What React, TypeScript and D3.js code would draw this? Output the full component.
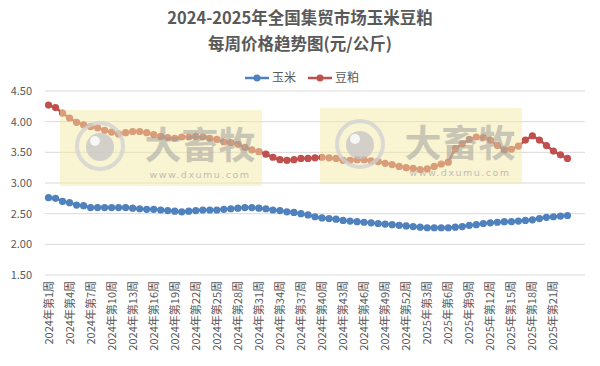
import React from 'react'
import * as d3 from 'd3'

const weeks = [
  '2024年第1周', '2024年第2周', '2024年第3周', '2024年第4周', '2024年第5周', '2024年第6周',
  '2024年第7周', '2024年第8周', '2024年第9周', '2024年第10周', '2024年第11周', '2024年第12周',
  '2024年第13周', '2024年第14周', '2024年第15周', '2024年第16周', '2024年第17周', '2024年第18周',
  '2024年第19周', '2024年第20周', '2024年第21周', '2024年第22周', '2024年第23周', '2024年第24周',
  '2024年第25周', '2024年第26周', '2024年第27周', '2024年第28周', '2024年第29周', '2024年第30周',
  '2024年第31周', '2024年第32周', '2024年第33周', '2024年第34周', '2024年第35周', '2024年第36周',
  '2024年第37周', '2024年第38周', '2024年第39周', '2024年第40周', '2024年第41周', '2024年第42周',
  '2024年第43周', '2024年第44周', '2024年第45周', '2024年第46周', '2024年第47周', '2024年第48周',
  '2024年第49周', '2024年第50周', '2024年第51周', '2024年第52周',
  '2025年第1周', '2025年第2周', '2025年第3周', '2025年第4周', '2025年第5周', '2025年第6周',
  '2025年第7周', '2025年第8周', '2025年第9周', '2025年第10周', '2025年第11周', '2025年第12周',
  '2025年第13周', '2025年第14周', '2025年第15周', '2025年第16周', '2025年第17周', '2025年第18周',
  '2025年第19周', '2025年第20周', '2025年第21周', '2025年第22周', '2025年第23周', '', '',
]

const corn = [
  2.76, 2.75, 2.70, 2.68, 2.64, 2.63, 2.60, 2.60, 2.60, 2.60, 2.60, 2.60, 2.59, 2.58, 2.57,
  2.57, 2.56, 2.55, 2.54, 2.53, 2.54, 2.55, 2.56, 2.56, 2.56, 2.57, 2.58, 2.59, 2.60, 2.60,
  2.59, 2.58, 2.56, 2.55, 2.53, 2.52, 2.50, 2.48, 2.45, 2.43, 2.42, 2.41, 2.39, 2.38, 2.37,
  2.36, 2.35, 2.34, 2.33, 2.32, 2.31, 2.30, 2.29, 2.28, 2.27, 2.27, 2.27, 2.27, 2.28, 2.29,
  2.31, 2.32, 2.34, 2.35, 2.36, 2.37, 2.37, 2.38, 2.39, 2.40, 2.42, 2.44, 2.45, 2.46, 2.47,
]

const soymeal = [
  4.27, 4.23, 4.14, 4.06, 3.99, 3.95, 3.92, 3.90, 3.86, 3.83, 3.80, 3.82, 3.84, 3.84, 3.82,
  3.79, 3.76, 3.74, 3.73, 3.75, 3.75, 3.76, 3.75, 3.73, 3.71, 3.67, 3.66, 3.63, 3.58, 3.54,
  3.51, 3.47, 3.42, 3.38, 3.37, 3.38, 3.40, 3.40, 3.41, 3.42, 3.41, 3.40, 3.37, 3.37, 3.38,
  3.38, 3.36, 3.35, 3.32, 3.30, 3.27, 3.25, 3.24, 3.22, 3.23, 3.27, 3.31, 3.34, 3.56, 3.64,
  3.71, 3.75, 3.74, 3.70, 3.61, 3.54, 3.55, 3.60, 3.70, 3.77, 3.70, 3.61, 3.52, 3.46, 3.40,
]

const yTicks = [1.5, 2.0, 2.5, 3.0, 3.5, 4.0, 4.5]
const seriesNames = ['玉米', '豆粕']
const colors = ['#4F81BD', '#C0504D']

const font = '"Noto Sans CJK SC", "Noto Sans", sans-serif'

// semi-transparent site watermark drawn over the plot
const Watermark = ({ x, y }: { x: number; y: number }) => (
  <g transform={`translate(${x},${y})`} pointerEvents="none">
    <rect x={0} y={0} width={202} height={76} fill="#f3e9a6" opacity={0.5} />
    <circle cx={40} cy={36} r={23} fill="none" stroke="#d0d0d0" strokeWidth={4} opacity={0.75} />
    <circle cx={40} cy={37} r={14} fill="#c4c4c4" opacity={0.75} />
    <circle cx={35} cy={31} r={5} fill="#ffffff" opacity={0.8} />
    <text x={140} y={49} textAnchor="middle" fontSize={37} fontWeight="bold"
      fontFamily={font} fill="#9a9a9a" opacity={0.5}>大畜牧</text>
    <text x={140} y={68} textAnchor="middle" fontSize={9.5} letterSpacing={1.5}
      fontFamily="Verdana, 'DejaVu Sans', sans-serif" fill="#a8a8a8" opacity={0.7}>www.dxumu.com</text>
  </g>
)

const App = () => {
  const width = 600
  const height = 366
  const left = 45
  const right = 585
  const top = 91
  const bottom = 275

  const x = d3.scalePoint<number>()
    .domain(d3.range(weeks.length))
    .range([left, right])
    .padding(0.5)

  const y = d3.scaleLinear().domain([1.5, 4.5]).range([bottom, top])

  const line = d3.line<number>()
    .x((_, i) => x(i) as number)
    .y(d => y(d))

  const series = [corn, soymeal]

  return (
    <svg width={width} height={height} style={{ position: 'absolute', left: 0, top: 0, background: '#fff' }}>
      <rect width={width} height={height} fill="#fff" />
      <text x={300} y={24} textAnchor="middle" fontSize={16.5} fontWeight="bold" fontFamily={font} fill="#595959">
        2024-2025年全国集贸市场玉米豆粕
      </text>
      <text x={300} y={50} textAnchor="middle" fontSize={16.5} fontWeight="bold" fontFamily={font} fill="#595959">
        每周价格趋势图(元/公斤)
      </text>

      {/* legend */}
      {seriesNames.map((name, i) => (
        <g key={name} transform={`translate(${245 + i * 63},78)`}>
          <line x1={0} x2={24} y1={0} y2={0} stroke={colors[i]} strokeWidth={2.5} />
          <circle cx={12} cy={0} r={3.5} fill={colors[i]} />
          <text x={27} y={4} fontSize={12} fontFamily={font} fill="#595959">{name}</text>
        </g>
      ))}

      {/* grid + y labels */}
      {yTicks.map(t => (
        <g key={t}>
          <line x1={left} x2={right} y1={y(t)} y2={y(t)} stroke="#d9d9d9" strokeWidth={1} />
          <text x={32} y={y(t) + 4} textAnchor="end" fontSize={11} fontFamily={font} fill="#595959">
            {t.toFixed(2)}
          </text>
        </g>
      ))}

      {/* x labels, every 3rd */}
      {weeks.map((w, i) => (i % 3 === 0 && w ? (
        <text key={w} transform={`translate(${(x(i) as number) + 4},281) rotate(-90)`}
          textAnchor="end" fontSize={11} fontFamily={font} fill="#595959">{w}</text>
      ) : null))}

      {/* series */}
      {series.map((vals, s) => (
        <g key={s}>
          <path d={line(vals) || ''} fill="none" stroke={colors[s]} strokeWidth={2.5} />
          {vals.map((v, i) => (
            <circle key={i} cx={x(i)} cy={y(v)} r={3.6} fill={colors[s]} />
          ))}
        </g>
      ))}

      <Watermark x={60} y={110} />
      <Watermark x={320} y={108} />
    </svg>
  )
}

export default App
